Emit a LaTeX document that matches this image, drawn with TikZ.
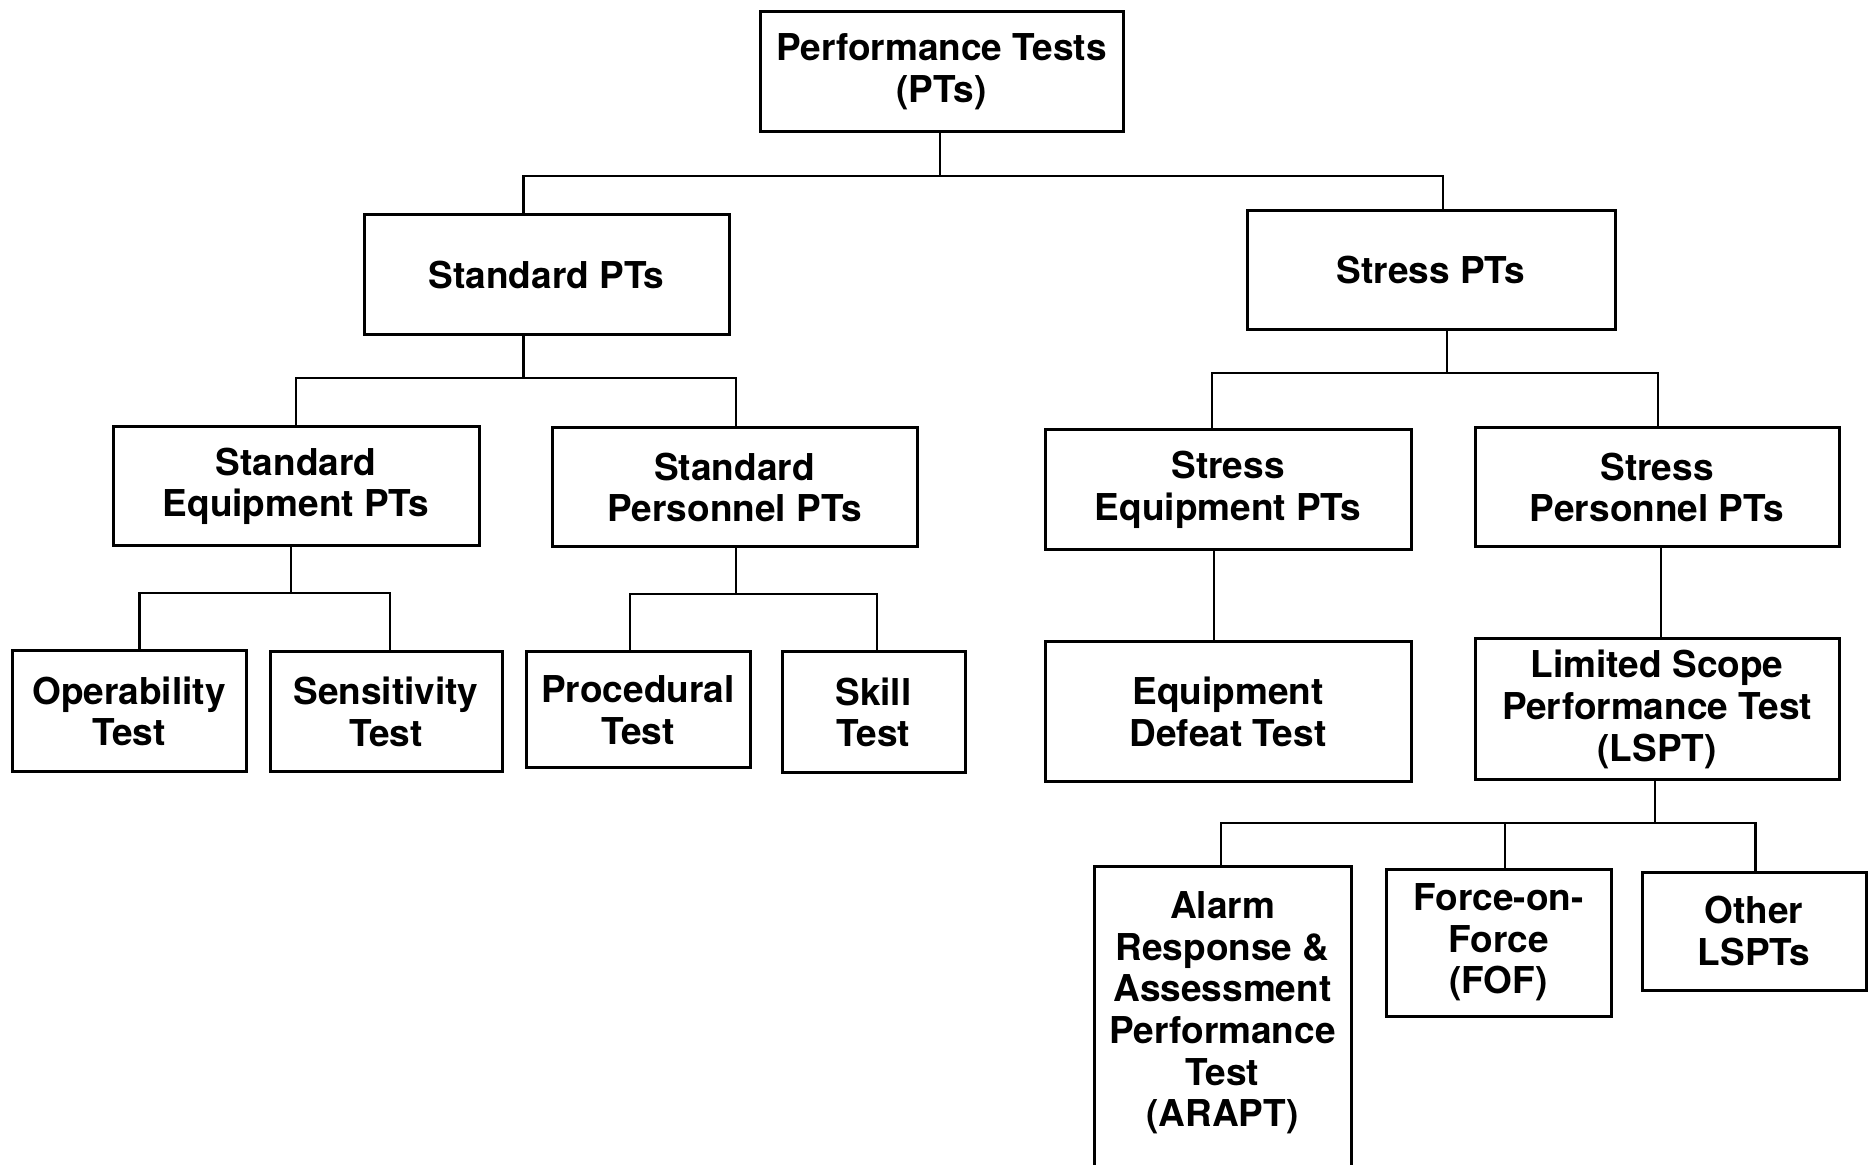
\documentclass[tikz,border=0pt]{standalone}
\usepackage{fontspec}
\setmainfont{TeX Gyre Heros}
\tikzset{
  pbox/.style={draw, line width=1.5pt, inner sep=0pt, align=center,
    font=\fontsize{18.5}{20.8}\selectfont\bfseries},
  txt/.style={inner sep=0pt, align=center, font=\fontsize{18.5}{20.8}\selectfont\bfseries},
  conn/.style={line width=1.1pt},
}
\newcommand\mkbox[6]{\node[pbox, minimum width={(#4-#2)*0.5pt}, minimum height={(#5-#3)*0.5pt}] (#1) at ({(#2+#4)/2},{(#3+#5)/2}) {#6};}
\begin{document}
\begin{tikzpicture}[x=0.5pt,y=-0.5pt]
\useasboundingbox (0,0) rectangle (1870,1165);
\fill[white] (0,0) rectangle (1870,1165);
\clip (0,0) rectangle (1870,1165);
% boxes
\mkbox{root}{760}{12}{1123}{132}{Performance Tests\\(PTs)}
\mkbox{std}{364}{215}{729}{335}{Standard PTs}
\mkbox{str}{1247}{211}{1615}{330}{Stress PTs}
\mkbox{seq}{113}{427}{479}{546}{Standard\\Equipment PTs}
\mkbox{sper}{552}{428}{917}{547}{Standard\\Personnel PTs}
\mkbox{op}{12}{651}{246}{772}{Operability\\Test}
\mkbox{sens}{270}{652}{502}{772}{Sensitivity\\Test}
\mkbox{proc}{526}{652}{750}{768}{Procedural\\Test}
\mkbox{skill}{782}{652}{965}{773}{Skill\\Test}
\mkbox{steq}{1045}{430}{1411}{550}{Stress\\Equipment PTs}
\mkbox{stper}{1475}{428}{1839}{547}{Stress\\Personnel PTs}
\mkbox{edt}{1045}{642}{1411}{782}{Equipment\\Defeat Test}
\mkbox{lspt}{1475}{639}{1839}{780}{Limited Scope\\Performance Test\\(LSPT)}
\mkbox{fof}{1386}{869}{1611}{1016}{Force-on-\\Force\\(FOF)}
\mkbox{oth}{1642}{872}{1866}{990}{Other\\LSPTs}
\node[draw, line width=1.5pt, inner sep=0pt, minimum width=128.5pt, minimum height=200pt, anchor=north] (arapt) at (1222.5,865) {};
\node[txt] (araptt) at (1222.5,1013) {Alarm\\Response \&\\Assessment\\Performance\\Test\\(ARAPT)};
% junction coordinates
\coordinate (r0) at (940,176);
\coordinate (r1) at (523.5,176);
\coordinate (r2) at (1443,176);
\coordinate (s0) at (523.5,378);
\coordinate (s1) at (295.8,378);
\coordinate (s2) at (735.8,378);
\coordinate (e0) at (291,593);
\coordinate (e1) at (139.5,593);
\coordinate (e2) at (390,593);
\coordinate (p0) at (735.8,594);
\coordinate (p1) at (629.7,594);
\coordinate (p2) at (876.6,594);
\coordinate (t0) at (1446.6,373);
\coordinate (t1) at (1211.7,373);
\coordinate (t2) at (1657.7,373);
\coordinate (q0) at (1214,600);
\coordinate (q1) at (1661,600);
\coordinate (l0) at (1655.3,823);
\coordinate (l1) at (1221.2,823);
\coordinate (l2) at (1505,823);
\coordinate (l3) at (1755.5,823);
% connectors
\draw[conn] (root.south -| r0) -- (r0);
\draw[conn] (std.north -| r1) -- (r1) -- (r2) -- (str.north -| r2);
\draw[conn] (std.south -| s0) -- (s0);
\draw[conn] (seq.north -| s1) -- (s1) -- (s2) -- (sper.north -| s2);
\draw[conn] (seq.south -| e0) -- (e0);
\draw[conn] (op.north -| e1) -- (e1) -- (e2) -- (sens.north -| e2);
\draw[conn] (sper.south -| p0) -- (p0);
\draw[conn] (proc.north -| p1) -- (p1) -- (p2) -- (skill.north -| p2);
\draw[conn] (str.south -| t0) -- (t0);
\draw[conn] (steq.north -| t1) -- (t1) -- (t2) -- (stper.north -| t2);
\draw[conn] (steq.south -| q0) -- (edt.north -| q0);
\draw[conn] (stper.south -| q1) -- (lspt.north -| q1);
\draw[conn] (lspt.south -| l0) -- (l0);
\draw[conn] (arapt.north -| l1) -- (l1) -- (l3) -- (oth.north -| l3);
\draw[conn] (fof.north -| l2) -- (l2);
\end{tikzpicture}
\end{document}
